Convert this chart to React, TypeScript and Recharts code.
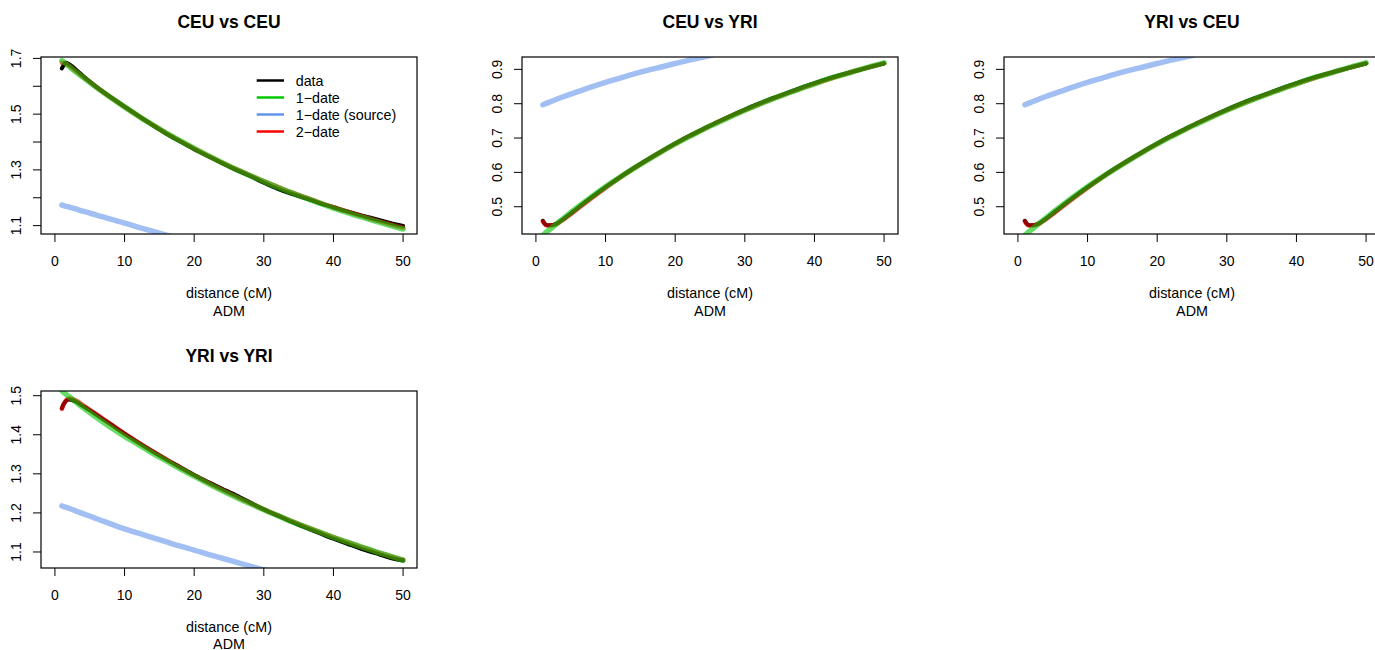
import React from 'react';
import { LineChart, Line, XAxis, YAxis } from 'recharts';

const FONT = '"Liberation Sans", Arial, Helvetica, sans-serif';

// shared x positions (distance in cM)
const distanceCm = [1, 1.25, 1.5, 2, 3, 4, 5, 6, 8, 10, 12, 14, 16, 18, 20, 22, 24, 26, 28, 30, 32, 34, 36, 38, 40, 42, 44, 46, 48, 50];
const xTicks = [0, 10, 20, 30, 40, 50];

// CEU vs CEU
const ceuCeuData = [1.664, 1.676, 1.684, 1.680, 1.660, 1.638, 1.617, 1.597, 1.561, 1.527, 1.494, 1.461, 1.430, 1.402, 1.374, 1.349, 1.324, 1.300, 1.278, 1.254, 1.232, 1.214, 1.198, 1.181, 1.166, 1.151, 1.137, 1.124, 1.111, 1.099];
const ceuCeuTwoDate = [1.684, 1.684, 1.682, 1.674, 1.654, 1.634, 1.615, 1.596, 1.560, 1.526, 1.493, 1.462, 1.432, 1.404, 1.377, 1.351, 1.326, 1.303, 1.281, 1.259, 1.239, 1.219, 1.201, 1.183, 1.166, 1.150, 1.135, 1.120, 1.106, 1.093];
const ceuCeuOneDate = [1.692, 1.687, 1.682, 1.672, 1.652, 1.633, 1.614, 1.595, 1.560, 1.526, 1.493, 1.462, 1.432, 1.404, 1.377, 1.351, 1.326, 1.302, 1.280, 1.258, 1.237, 1.218, 1.199, 1.181, 1.163, 1.147, 1.131, 1.116, 1.102, 1.088];
const ceuCeuSource = [1.174, 1.172, 1.170, 1.167, 1.160, 1.152, 1.145, 1.138, 1.123, 1.109, 1.094, 1.080, 1.066, 1.052, 1.038, 1.025, 1.012, 0.999, 0.986, 0.974, 0.962, 0.950, 0.938, 0.927, 0.916, 0.905, 0.894, 0.884, 0.874, 0.864];

// CEU vs YRI (YRI vs CEU is drawn from the same values)
const ceuYriData = [0.459, 0.451, 0.447, 0.446, 0.451, 0.465, 0.480, 0.496, 0.527, 0.557, 0.585, 0.612, 0.637, 0.661, 0.684, 0.706, 0.726, 0.746, 0.765, 0.783, 0.800, 0.816, 0.831, 0.846, 0.860, 0.873, 0.885, 0.896, 0.907, 0.917];
const ceuYriTwoDate = [0.457, 0.450, 0.446, 0.445, 0.450, 0.463, 0.478, 0.494, 0.525, 0.555, 0.584, 0.611, 0.636, 0.660, 0.683, 0.705, 0.725, 0.745, 0.764, 0.781, 0.798, 0.814, 0.829, 0.844, 0.858, 0.871, 0.884, 0.896, 0.907, 0.918];
const ceuYriOneDate = [0.417, 0.421, 0.426, 0.434, 0.451, 0.467, 0.483, 0.499, 0.529, 0.558, 0.585, 0.611, 0.636, 0.660, 0.683, 0.704, 0.725, 0.744, 0.763, 0.781, 0.798, 0.814, 0.829, 0.844, 0.858, 0.872, 0.884, 0.896, 0.908, 0.919];
const ceuYriSource = [0.797, 0.799, 0.801, 0.805, 0.813, 0.821, 0.828, 0.835, 0.849, 0.862, 0.874, 0.886, 0.897, 0.907, 0.917, 0.927, 0.936, 0.945, 0.953, 0.961, 0.969, 0.976, 0.983, 0.990, 0.996, 1.002, 1.008, 1.013, 1.018, 1.023];

// YRI vs YRI
const yriYriData = [1.468, 1.478, 1.485, 1.490, 1.485, 1.474, 1.463, 1.451, 1.427, 1.403, 1.380, 1.358, 1.337, 1.317, 1.297, 1.279, 1.262, 1.245, 1.227, 1.209, 1.193, 1.177, 1.162, 1.148, 1.134, 1.121, 1.108, 1.097, 1.086, 1.078];
const yriYriTwoDate = [1.466, 1.478, 1.486, 1.493, 1.488, 1.476, 1.464, 1.452, 1.427, 1.403, 1.380, 1.358, 1.337, 1.316, 1.296, 1.277, 1.259, 1.242, 1.225, 1.209, 1.194, 1.179, 1.165, 1.151, 1.138, 1.125, 1.113, 1.101, 1.090, 1.080];
const yriYriOneDate = [1.513, 1.509, 1.505, 1.498, 1.484, 1.470, 1.457, 1.444, 1.419, 1.396, 1.375, 1.353, 1.333, 1.313, 1.294, 1.275, 1.257, 1.240, 1.224, 1.208, 1.193, 1.178, 1.164, 1.151, 1.137, 1.125, 1.113, 1.101, 1.090, 1.079];
const yriYriSource = [1.218, 1.216, 1.215, 1.212, 1.205, 1.198, 1.192, 1.185, 1.172, 1.159, 1.148, 1.137, 1.126, 1.115, 1.105, 1.094, 1.084, 1.074, 1.064, 1.054, 1.045, 1.036, 1.027, 1.019, 1.011, 1.003, 0.995, 0.988, 0.981, 0.974];

// y ticks and their labels
const ceuCeuYTicks = [1.1, 1.2, 1.3, 1.4, 1.5, 1.6, 1.7];
const ceuCeuYLabels = ['1.1', '', '1.3', '', '1.5', '', '1.7'];
const ceuYriYTicks = [0.5, 0.6, 0.7, 0.8, 0.9];
const ceuYriYLabels = ['0.5', '0.6', '0.7', '0.8', '0.9'];
const yriYriYTicks = [1.1, 1.2, 1.3, 1.4, 1.5];
const yriYriYLabels = ['1.1', '1.2', '1.3', '1.4', '1.5'];

const legendNames = ['data', '1\u2212date', '1\u2212date (source)', '2\u2212date'];
const legendColors = ['#000000', '#00C800', '#6495ED', '#FF0000'];

const BOX_W = 376;
const BOX_H = 177;
const ML = 50;
const MT = 10;
const MR = 10;
const MB = 40;

type Series = { data: number[]; one: number[]; source: number[]; two: number[] };

type PanelDef = {
  title: string;
  left: number;
  top: number;
  series: Series;
  yDomain: [number, number];
  yTicks: number[];
  yLabels: string[];
  legend?: boolean;
  admY: number;
};

const panels: PanelDef[] = [
  {
    title: 'CEU vs CEU', left: 41, top: 57,
    series: { data: ceuCeuData, one: ceuCeuOneDate, source: ceuCeuSource, two: ceuCeuTwoDate },
    yDomain: [1.07, 1.705], yTicks: ceuCeuYTicks, yLabels: ceuCeuYLabels, legend: true, admY: 82,
  },
  {
    title: 'CEU vs YRI', left: 522, top: 57,
    series: { data: ceuYriData, one: ceuYriOneDate, source: ceuYriSource, two: ceuYriTwoDate },
    yDomain: [0.4206, 0.936], yTicks: ceuYriYTicks, yLabels: ceuYriYLabels, admY: 82,
  },
  {
    title: 'YRI vs CEU', left: 1004, top: 57,
    series: { data: ceuYriData, one: ceuYriOneDate, source: ceuYriSource, two: ceuYriTwoDate },
    yDomain: [0.4206, 0.936], yTicks: ceuYriYTicks, yLabels: ceuYriYLabels, admY: 82,
  },
  {
    title: 'YRI vs YRI', left: 41, top: 391,
    series: { data: yriYriData, one: yriYriOneDate, source: yriYriSource, two: yriYriTwoDate },
    yDomain: [1.059, 1.512], yTicks: yriYriYTicks, yLabels: yriYriYLabels, admY: 80.5,
  },
];

function makeYTick(ticks: number[], labels: string[]) {
  return (props: any) => {
    const { y, payload } = props;
    const idx = ticks.findIndex((t) => Math.abs(t - payload.value) < 1e-9);
    const label = idx >= 0 ? labels[idx] : '';
    if (!label) return <g />;
    const bx = ML - 20;
    return (
      <text
        x={bx}
        y={y}
        transform={`rotate(-90, ${bx}, ${y})`}
        textAnchor="middle"
        fill="#000"
        fontSize={14}
        fontFamily={FONT}
      >
        {label}
      </text>
    );
  };
}

function Panel({ p }: { p: PanelDef }) {
  const rows = distanceCm.map((x, i) => ({
    x,
    data: p.series.data[i],
    one: p.series.one[i],
    source: p.series.source[i],
    two: p.series.two[i],
  }));
  const w = BOX_W + ML + MR;
  const h = BOX_H + MT + MB;
  const common = {
    dot: false as const,
    activeDot: false as const,
    isAnimationActive: false,
    type: 'monotone' as const,
    strokeLinecap: 'round' as const,
    strokeLinejoin: 'round' as const,
  };
  return (
    <div style={{ position: 'absolute', left: p.left - ML, top: p.top - MT, width: w, height: h }}>
      <LineChart width={w} height={h} data={rows} margin={{ top: MT, right: MR, bottom: 0, left: 0 }}>
        <XAxis
          dataKey="x"
          type="number"
          domain={[-2, 52]}
          ticks={xTicks}
          interval={0}
          allowDataOverflow
          axisLine={false}
          tickLine={{ stroke: '#000', strokeWidth: 1 }}
          tickSize={8}
          tickMargin={14}
          height={MB}
          tick={{ fill: '#000', fontSize: 14, fontFamily: FONT }}
        />
        <YAxis
          type="number"
          domain={p.yDomain}
          ticks={p.yTicks}
          interval={0}
          allowDataOverflow
          axisLine={false}
          tickLine={{ stroke: '#000', strokeWidth: 1 }}
          tickSize={8}
          width={ML}
          tick={makeYTick(p.yTicks, p.yLabels)}
        />
        <Line dataKey="data" stroke="#000000" strokeWidth={4} {...common} />
        <Line dataKey="two" stroke="#FF0000" strokeOpacity={0.6} strokeWidth={4.5} {...common} />
        <Line dataKey="one" stroke="#00C800" strokeOpacity={0.6} strokeWidth={5.5} {...common} />
        <Line dataKey="source" stroke="#6495ED" strokeOpacity={0.6} strokeWidth={5.5} {...common} />
      </LineChart>
    </div>
  );
}

function Overlay() {
  return (
    <svg
      width={1375}
      height={650}
      style={{ position: 'absolute', left: 0, top: 0, pointerEvents: 'none' }}
    >
      {panels.map((p) => (
        <g key={p.title}>
          <rect
            x={p.left}
            y={p.top}
            width={BOX_W}
            height={BOX_H}
            fill="none"
            stroke="#000"
            strokeWidth={1.2}
          />
          <text
            x={p.left + BOX_W / 2}
            y={p.top - 28.7}
            textAnchor="middle"
            fontFamily={FONT}
            fontWeight="bold"
            fontSize={17.5}
            fill="#000"
          >
            {p.title}
          </text>
          <text
            x={p.left + BOX_W / 2}
            y={p.top + BOX_H + 64}
            textAnchor="middle"
            fontFamily={FONT}
            fontSize={14.3}
            fill="#000"
          >
            distance (cM)
          </text>
          <text
            x={p.left + BOX_W / 2}
            y={p.top + BOX_H + p.admY}
            textAnchor="middle"
            fontFamily={FONT}
            fontSize={14.3}
            fill="#000"
          >
            ADM
          </text>
          {p.legend &&
            legendNames.map((name, i) => (
              <g key={name}>
                <line
                  x1={256.7}
                  x2={284}
                  y1={80.5 + i * 17}
                  y2={80.5 + i * 17}
                  stroke={legendColors[i]}
                  strokeWidth={2.5}
                />
                <text
                  x={295.7}
                  y={80.5 + i * 17 + 5.3}
                  fontFamily={FONT}
                  fontSize={14.3}
                  fill="#000"
                >
                  {name}
                </text>
              </g>
            ))}
        </g>
      ))}
    </svg>
  );
}

export default function App() {
  return (
    <div
      style={{
        position: 'absolute',
        left: 0,
        top: 0,
        width: 1375,
        height: 650,
        overflow: 'hidden',
        background: '#fff',
      }}
    >
      {panels.map((p) => (
        <Panel key={p.title} p={p} />
      ))}
      <Overlay />
    </div>
  );
}
